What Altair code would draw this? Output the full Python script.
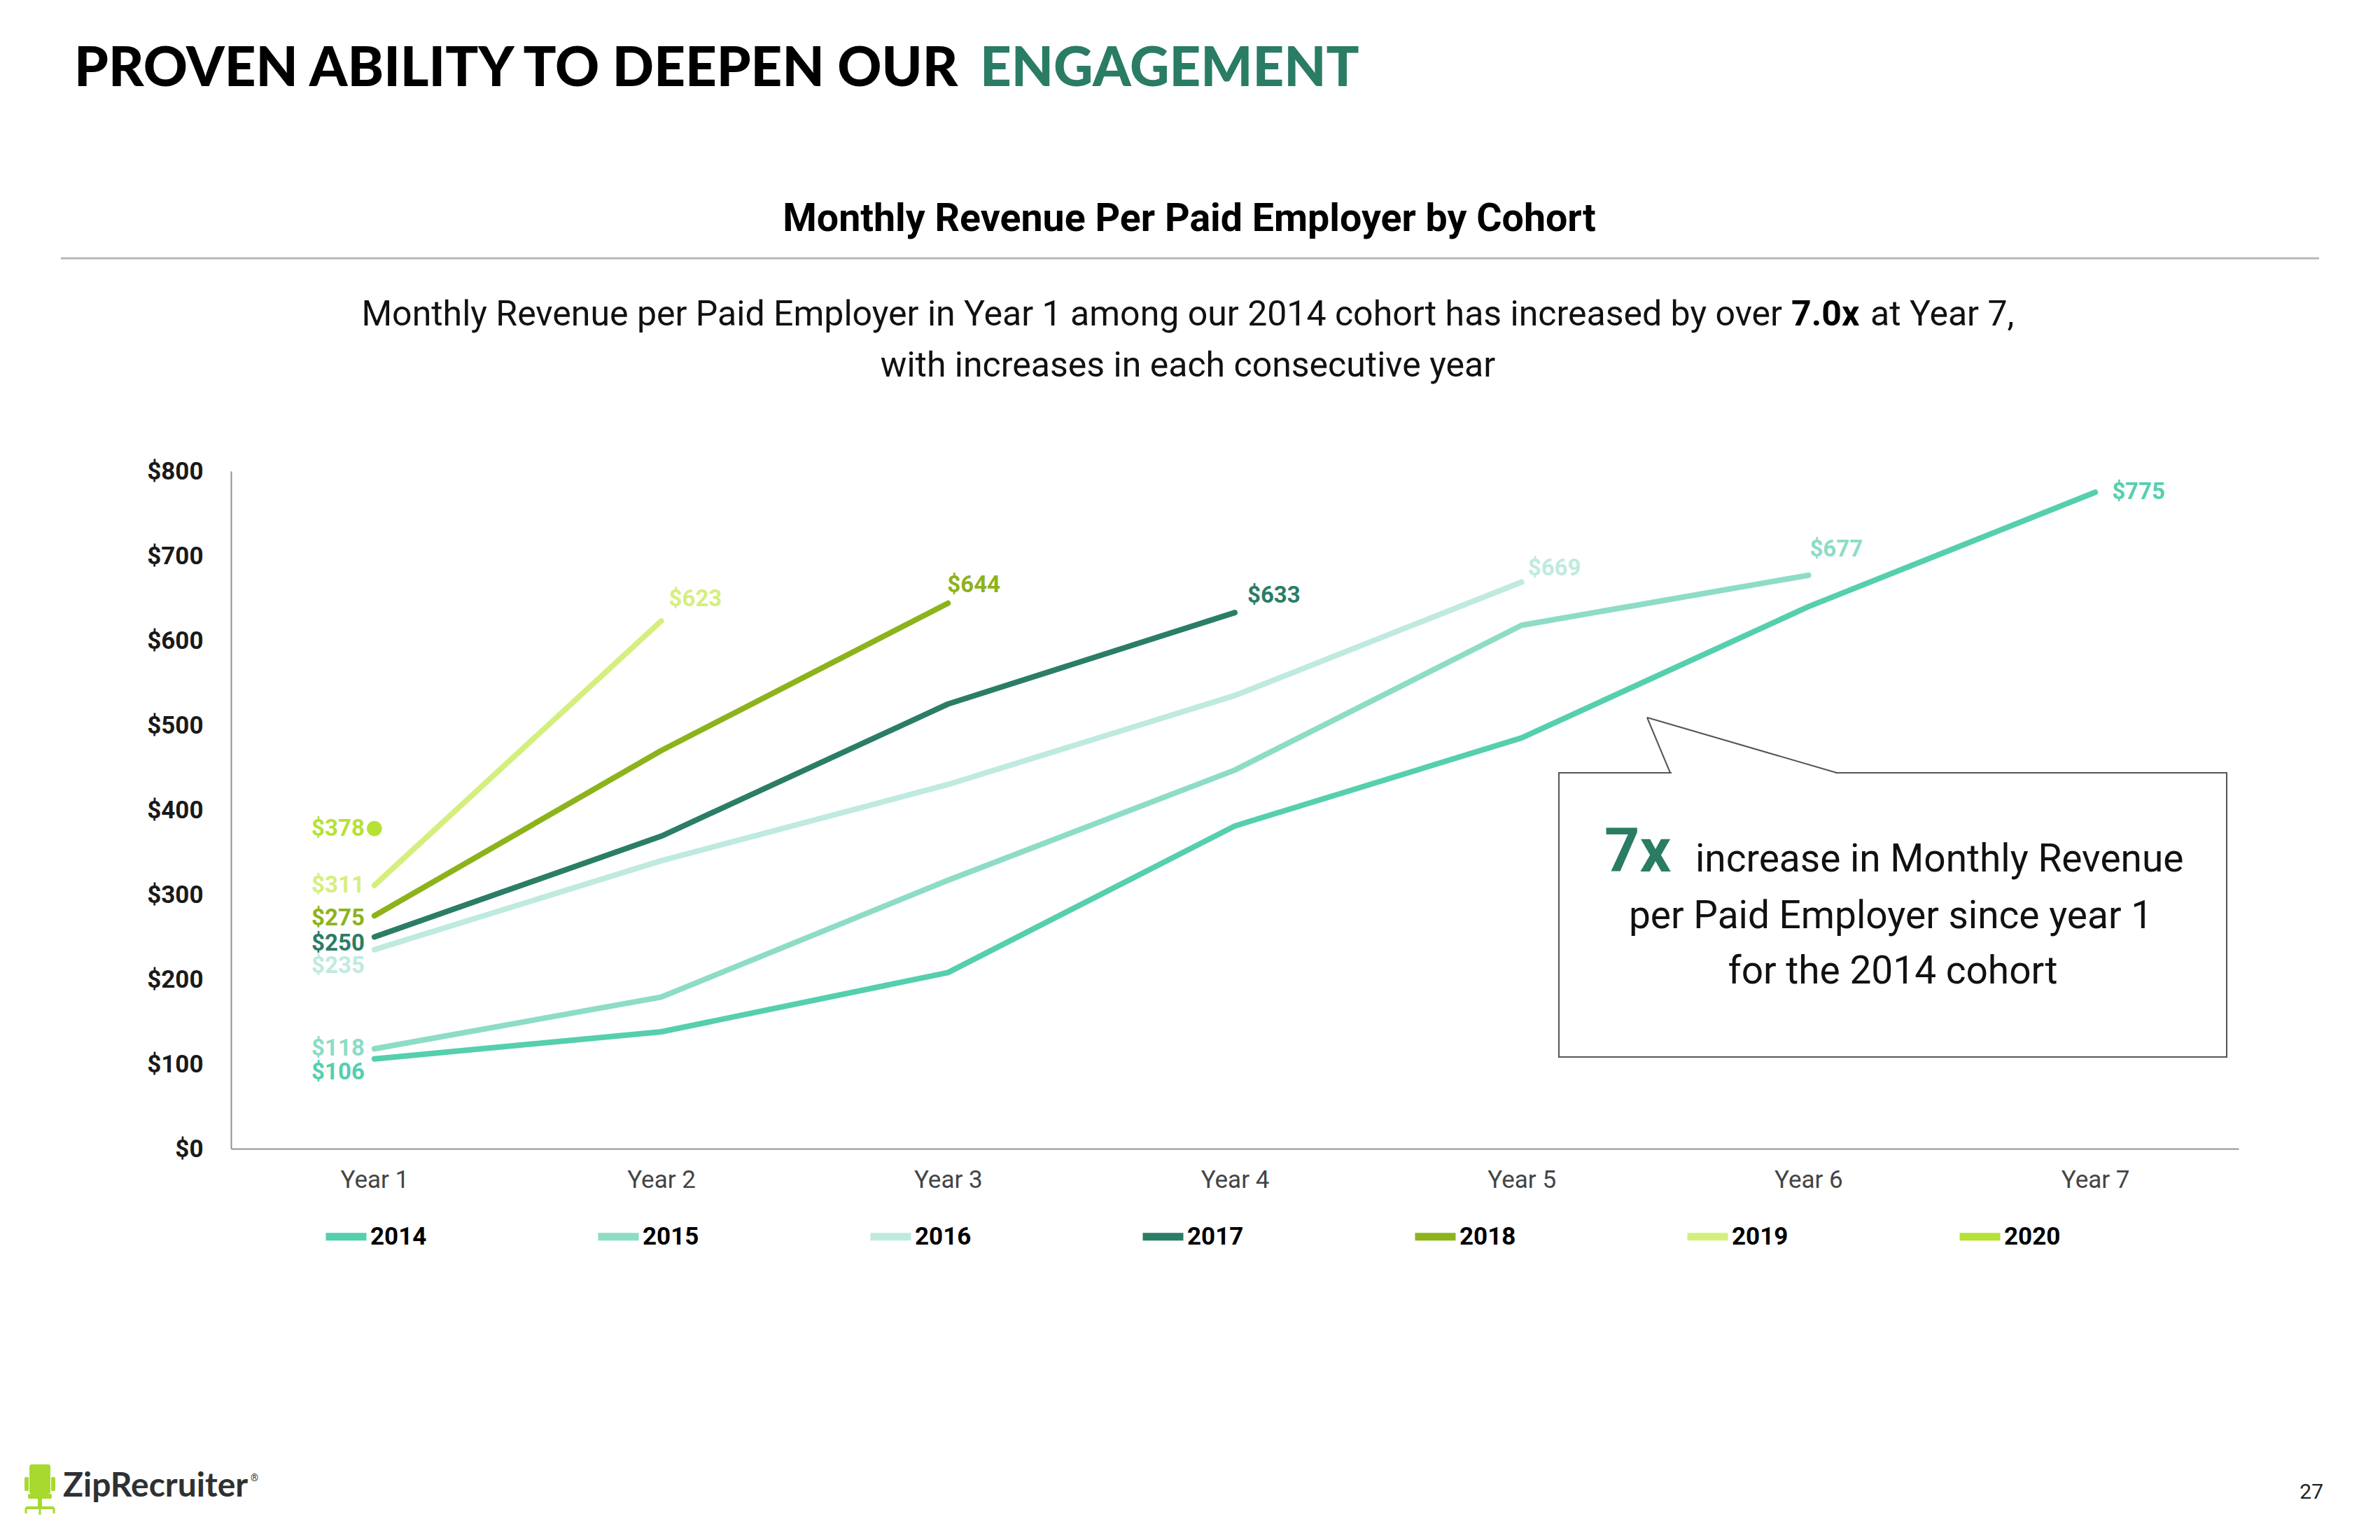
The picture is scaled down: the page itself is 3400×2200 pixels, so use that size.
import altair as alt
import pandas as pd

# ---------------- data ----------------
years = ["Year 1", "Year 2", "Year 3", "Year 4", "Year 5", "Year 6", "Year 7"]
cohorts = ["2014", "2015", "2016", "2017", "2018", "2019", "2020"]
rev_2014 = [106, 138, 208, 381, 485, 640, 775]
rev_2015 = [118, 179, 317, 447, 618, 677]
rev_2016 = [235, 340, 430, 535, 669]
rev_2017 = [250, 369, 525, 633]
rev_2018 = [275, 470, 644]
rev_2019 = [311, 623]
rev_2020 = [378]
y_ticks = [0, 100, 200, 300, 400, 500, 600, 700, 800]

series = [rev_2014, rev_2015, rev_2016, rev_2017, rev_2018, rev_2019, rev_2020]

# ---------------- style ----------------
colors = ["#55cfae", "#8ddcc6", "#bfeadf", "#2b7d66", "#8db31b", "#d4ef7e", "#b5e235"]
GREEN = "#2a7c64"
first_dy = {"2014": 19, "2015": 0, "2016": 23, "2017": 9, "2018": 4, "2019": 0, "2020": 0}
last_off = {"2014": (24, 0), "2015": (2, -37), "2016": (9, -20),
            "2017": (18, -24), "2018": (-1, -26), "2019": (11, -31)}

rows = []
for c, vals in zip(cohorts, series):
    for i, v in enumerate(vals):
        rows.append({"cohort": c, "year": years[i], "value": v,
                     "idx": i, "n": len(vals)})
df = pd.DataFrame(rows)

W, H = 2868, 968
X0, Y0 = 330, 673  # plot origin on the page

x_enc = alt.X("year:N", scale=alt.Scale(type="point", domain=years, padding=0.5),
              title=None,
              axis=alt.Axis(domain=True, domainColor="#8c9198", domainWidth=2,
                            ticks=False, grid=False, labelAngle=0,
                            labelFont="Roboto", labelFontSize=35,
                            labelColor="#444444", labelPadding=27))
y_enc = alt.Y("value:Q", scale=alt.Scale(domain=[0, 800], nice=False, zero=True),
              title=None,
              axis=alt.Axis(values=y_ticks, format="$.0f", domain=True,
                            domainColor="#8c9198", domainWidth=2, ticks=False,
                            grid=False, labelFont="Roboto", labelFontSize=35,
                            labelFontWeight="bold", labelColor="#1a1a1a",
                            labelPadding=40))
cscale = alt.Scale(domain=cohorts, range=colors)

lines = alt.Chart(df).mark_line(strokeWidth=8, strokeCap="round",
                                strokeJoin="round").encode(
    x=x_enc, y=y_enc,
    color=alt.Color("cohort:N", scale=cscale,
                    legend=alt.Legend(orient="none", legendX=130, legendY=1059,
                                      direction="horizontal", title=None,
                                      symbolType="stroke", symbolSize=3364,
                                      symbolStrokeWidth=11,
                                      labelFont="Roboto", labelFontSize=35,
                                      labelFontWeight="bold", labelColor="#000000",
                                      labelOffset=0, columnPadding=222)),
    order="idx:Q",
)

dot = alt.Chart(df).transform_filter("datum.n == 1").mark_circle(
    size=470, opacity=1).encode(
    x=x_enc, y=y_enc, color=alt.Color("cohort:N", scale=cscale, legend=None))

label_layers = []
for c in cohorts:
    label_layers.append(
        alt.Chart(df).transform_filter(
            (alt.datum.cohort == c) & (alt.datum.idx == 0)
        ).mark_text(align="right", baseline="middle", dx=-14, dy=first_dy[c],
                    font="Roboto", fontSize=33, fontWeight="bold").encode(
            x=x_enc, y=y_enc,
            text=alt.Text("value:Q", format="$.0f"),
            color=alt.Color("cohort:N", scale=cscale, legend=None)))
for c, (dx, dy) in last_off.items():
    label_layers.append(
        alt.Chart(df).transform_filter(
            (alt.datum.cohort == c) & (alt.datum.idx == alt.datum.n - 1)
        ).mark_text(align="left", baseline="middle", dx=dx, dy=dy,
                    font="Roboto", fontSize=33, fontWeight="bold").encode(
            x=x_enc, y=y_enc,
            text=alt.Text("value:Q", format="$.0f"),
            color=alt.Color("cohort:N", scale=cscale, legend=None)))


# ---------------- decorations (page pixel positions) ----------------
def one():
    return alt.Chart(alt.Data(values=[{"k": 1}]))


def txt(x, y, s, size, weight="normal", color="#000000", align="left",
        font="Roboto", baseline="alphabetic"):
    return one().mark_text(text=s, fontSize=size, fontWeight=weight, color=color,
                           align=align, baseline=baseline, font=font).encode(
        x=alt.value(x - X0), y=alt.value(y - Y0))


def rule(x1, y1, x2, y2, color, width):
    return one().mark_rule(color=color, strokeWidth=width).encode(
        x=alt.value(x1 - X0), y=alt.value(y1 - Y0),
        x2=alt.value(x2 - X0), y2=alt.value(y2 - Y0))


def rect(x1, y1, x2, y2, fill, stroke=None, sw=0, radius=0):
    kw = dict(fill=fill, cornerRadius=radius)
    if stroke:
        kw.update(stroke=stroke, strokeWidth=sw)
    return one().mark_rect(**kw).encode(
        x=alt.value(x1 - X0), y=alt.value(y1 - Y0),
        x2=alt.value(x2 - X0), y2=alt.value(y2 - Y0))


deco = [
    # page title
    txt(106, 123, "PROVEN ABILITY TO DEEPEN OUR", 78, 900, "#000000", font="Lato"),
    txt(1400, 123, "ENGAGEMENT", 78, 900, GREEN, font="Lato"),
    # chart title + separator
    txt(1699, 330, "Monthly Revenue Per Paid Employer by Cohort", 55.5, "bold",
        "#000000", align="center"),
    rule(87, 369, 3313, 369, "#b4b9c0", 3),
    # subtitle
    txt(2546, 465, "Monthly Revenue per Paid Employer in Year 1 among our 2014 cohort has increased by over",
        50, "normal", "#111111", align="right"),
    txt(2559, 465, "7.0x", 50, "bold", "#000000"),
    txt(2672, 465, "at Year 7,", 50, "normal", "#111111"),
    txt(1697, 538, "with increases in each consecutive year", 50, "normal",
        "#111111", align="center"),
    # callout box
    rect(2227, 1104, 3181, 1510, "#ffffff", "#555555", 2),
    rule(2388, 1104, 2622, 1104, "#ffffff", 5),
    rule(2386, 1104, 2353, 1025, "#555555", 2),
    rule(2353, 1025, 2624, 1104, "#555555", 2),
    txt(2292, 1245, "7x", 88, "bold", GREEN),
    txt(2422, 1245, "increase in Monthly Revenue", 55, "normal", "#111111"),
    txt(2701, 1326, "per Paid Employer since year 1", 55, "normal", "#111111",
        align="center"),
    txt(2704, 1405, "for the 2014 cohort", 55, "normal", "#111111", align="center"),
    # footer logo
    rect(42, 2092, 72, 2134, "#a8d92e", radius=3),
    rect(35, 2110, 41, 2130, "#a8d92e", radius=2),
    rect(73, 2110, 79, 2130, "#a8d92e", radius=2),
    rect(40, 2134, 74, 2141, "#a8d92e", radius=2),
    rect(54, 2141, 60, 2152, "#a8d92e"),
    rule(37, 2154, 77, 2154, "#a8d92e", 4),
    rule(37, 2154, 37, 2162, "#a8d92e", 3),
    rule(77, 2154, 77, 2162, "#a8d92e", 3),
    rule(57, 2154, 57, 2164, "#a8d92e", 3),
    txt(90, 2138, "ZipRecruiter", 48, "bold", "#2f3133", font="Lato"),
    txt(358, 2116, "®", 14, "normal", "#2f3133"),
    # page number
    txt(3319, 2141, "27", 30, "normal", "#222222", align="right"),
]

chart = alt.layer(*deco[:9], lines, dot, *label_layers, *deco[9:]).properties(
    width=W, height=H,
    autosize=alt.AutoSizeParams(type="none"),
    padding={"left": X0 - 8, "top": Y0 - 8, "right": 3384 - (X0 - 8) - W,
             "bottom": 2184 - (Y0 - 8) - H},
    background="#ffffff",
).configure_view(stroke=None)

chart.save("out.html", embed_options={"renderer": "svg", "actions": False})
